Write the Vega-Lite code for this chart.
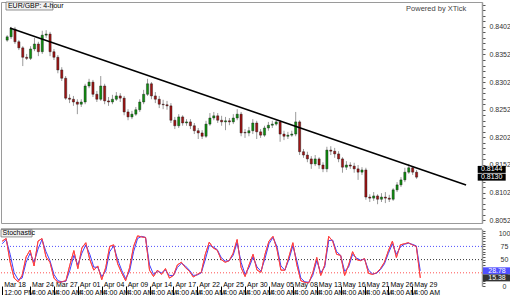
{
  "$schema": "https://vega.github.io/schema/vega-lite/v6.json",
  "padding": 0,
  "autosize": {"type": "pad"},
  "background": "white",
  "spacing": 2,
  "config": {"view": {"stroke": null}, "font": "Liberation Sans", "axis": {"labelFont": "Liberation Sans", "grid": false, "labelOverlap": false, "labelFlush": false}},
  "datasets": {
    "bars": [
      {"n":0,"o":0.8378,"h":0.8387,"l":0.8375,"c":0.8384,"k":85,"d":80},
      {"n":1,"o":0.8384,"h":0.8402,"l":0.8380,"c":0.8398,"k":90,"d":88},
      {"n":2,"o":0.8398,"h":0.8402,"l":0.8371,"c":0.8375,"k":45,"d":60},
      {"n":3,"o":0.8375,"h":0.8378,"l":0.8360,"c":0.8364,"k":15,"d":25},
      {"n":4,"o":0.8364,"h":0.8367,"l":0.8331,"c":0.8347,"k":8,"d":12},
      {"n":5,"o":0.8347,"h":0.8353,"l":0.8342,"c":0.8345,"k":20,"d":15},
      {"n":6,"o":0.8345,"h":0.8367,"l":0.8342,"c":0.8362,"k":55,"d":45},
      {"n":7,"o":0.8362,"h":0.8382,"l":0.8358,"c":0.8371,"k":68,"d":62},
      {"n":8,"o":0.8371,"h":0.8375,"l":0.8349,"c":0.8357,"k":38,"d":45},
      {"n":9,"o":0.8357,"h":0.8395,"l":0.8353,"c":0.8387,"k":85,"d":70},
      {"n":10,"o":0.8387,"h":0.8396,"l":0.8382,"c":0.8389,"k":90,"d":88},
      {"n":11,"o":0.8389,"h":0.8393,"l":0.8349,"c":0.8357,"k":55,"d":65},
      {"n":12,"o":0.8357,"h":0.8362,"l":0.8342,"c":0.8347,"k":45,"d":48},
      {"n":13,"o":0.8347,"h":0.8351,"l":0.8318,"c":0.8324,"k":15,"d":22},
      {"n":14,"o":0.8324,"h":0.8329,"l":0.8304,"c":0.8309,"k":7,"d":10},
      {"n":15,"o":0.8309,"h":0.8313,"l":0.8270,"c":0.8273,"k":8,"d":8},
      {"n":16,"o":0.8273,"h":0.8280,"l":0.8264,"c":0.8271,"k":10,"d":9},
      {"n":17,"o":0.8271,"h":0.8277,"l":0.8259,"c":0.8266,"k":40,"d":30},
      {"n":18,"o":0.8266,"h":0.8271,"l":0.8244,"c":0.8262,"k":67,"d":58},
      {"n":19,"o":0.8262,"h":0.8271,"l":0.8257,"c":0.8266,"k":33,"d":40},
      {"n":20,"o":0.8266,"h":0.8299,"l":0.8262,"c":0.8295,"k":72,"d":62},
      {"n":21,"o":0.8295,"h":0.8308,"l":0.8291,"c":0.8302,"k":82,"d":78},
      {"n":22,"o":0.8302,"h":0.8306,"l":0.8275,"c":0.8280,"k":50,"d":60},
      {"n":23,"o":0.8280,"h":0.8286,"l":0.8266,"c":0.8271,"k":30,"d":36},
      {"n":24,"o":0.8271,"h":0.8313,"l":0.8268,"c":0.8295,"k":38,"d":35},
      {"n":25,"o":0.8295,"h":0.8299,"l":0.8262,"c":0.8268,"k":12,"d":18},
      {"n":26,"o":0.8268,"h":0.8275,"l":0.8259,"c":0.8266,"k":35,"d":28},
      {"n":27,"o":0.8266,"h":0.8279,"l":0.8262,"c":0.8271,"k":75,"d":65},
      {"n":28,"o":0.8271,"h":0.8284,"l":0.8268,"c":0.8277,"k":78,"d":76},
      {"n":29,"o":0.8277,"h":0.8282,"l":0.8266,"c":0.8273,"k":42,"d":50},
      {"n":30,"o":0.8273,"h":0.8277,"l":0.8242,"c":0.8248,"k":25,"d":30},
      {"n":31,"o":0.8248,"h":0.8253,"l":0.8233,"c":0.8239,"k":10,"d":14},
      {"n":32,"o":0.8239,"h":0.8250,"l":0.8235,"c":0.8244,"k":35,"d":28},
      {"n":33,"o":0.8244,"h":0.8257,"l":0.8241,"c":0.8252,"k":75,"d":65},
      {"n":34,"o":0.8252,"h":0.8271,"l":0.8248,"c":0.8266,"k":95,"d":90},
      {"n":35,"o":0.8266,"h":0.8288,"l":0.8262,"c":0.8280,"k":93,"d":94},
      {"n":36,"o":0.8280,"h":0.8308,"l":0.8277,"c":0.8299,"k":92,"d":92},
      {"n":37,"o":0.8299,"h":0.8302,"l":0.8271,"c":0.8277,"k":30,"d":40},
      {"n":38,"o":0.8277,"h":0.8284,"l":0.8264,"c":0.8271,"k":18,"d":22},
      {"n":39,"o":0.8271,"h":0.8277,"l":0.8255,"c":0.8262,"k":30,"d":28},
      {"n":40,"o":0.8262,"h":0.8270,"l":0.8253,"c":0.8261,"k":22,"d":25},
      {"n":41,"o":0.8261,"h":0.8268,"l":0.8252,"c":0.8259,"k":33,"d":30},
      {"n":42,"o":0.8259,"h":0.8264,"l":0.8228,"c":0.8233,"k":15,"d":20},
      {"n":43,"o":0.8233,"h":0.8239,"l":0.8217,"c":0.8223,"k":20,"d":20},
      {"n":44,"o":0.8223,"h":0.8244,"l":0.8219,"c":0.8239,"k":40,"d":35},
      {"n":45,"o":0.8239,"h":0.8242,"l":0.8223,"c":0.8228,"k":45,"d":43},
      {"n":46,"o":0.8228,"h":0.8235,"l":0.8223,"c":0.8230,"k":35,"d":38},
      {"n":47,"o":0.8230,"h":0.8235,"l":0.8217,"c":0.8223,"k":28,"d":30},
      {"n":48,"o":0.8223,"h":0.8228,"l":0.8208,"c":0.8214,"k":17,"d":20},
      {"n":49,"o":0.8214,"h":0.8219,"l":0.8199,"c":0.8210,"k":22,"d":21},
      {"n":50,"o":0.8210,"h":0.8215,"l":0.8199,"c":0.8204,"k":26,"d":25},
      {"n":51,"o":0.8204,"h":0.8232,"l":0.8201,"c":0.8226,"k":60,"d":50},
      {"n":52,"o":0.8226,"h":0.8246,"l":0.8223,"c":0.8237,"k":83,"d":77},
      {"n":53,"o":0.8237,"h":0.8248,"l":0.8233,"c":0.8241,"k":72,"d":74},
      {"n":54,"o":0.8241,"h":0.8246,"l":0.8228,"c":0.8233,"k":68,"d":69},
      {"n":55,"o":0.8233,"h":0.8241,"l":0.8223,"c":0.8230,"k":50,"d":54},
      {"n":56,"o":0.8230,"h":0.8239,"l":0.8215,"c":0.8232,"k":45,"d":47},
      {"n":57,"o":0.8232,"h":0.8237,"l":0.8224,"c":0.8230,"k":48,"d":48},
      {"n":58,"o":0.8230,"h":0.8244,"l":0.8226,"c":0.8237,"k":62,"d":58},
      {"n":59,"o":0.8237,"h":0.8253,"l":0.8233,"c":0.8244,"k":88,"d":82},
      {"n":60,"o":0.8244,"h":0.8248,"l":0.8204,"c":0.8210,"k":35,"d":45},
      {"n":61,"o":0.8211,"h":0.8217,"l":0.8201,"c":0.8210,"k":18,"d":22},
      {"n":62,"o":0.8210,"h":0.8221,"l":0.8204,"c":0.8214,"k":40,"d":35},
      {"n":63,"o":0.8214,"h":0.8235,"l":0.8208,"c":0.8228,"k":60,"d":55},
      {"n":64,"o":0.8228,"h":0.8232,"l":0.8199,"c":0.8212,"k":30,"d":36},
      {"n":65,"o":0.8212,"h":0.8217,"l":0.8201,"c":0.8206,"k":26,"d":28},
      {"n":66,"o":0.8206,"h":0.8223,"l":0.8203,"c":0.8219,"k":60,"d":52},
      {"n":67,"o":0.8219,"h":0.8230,"l":0.8214,"c":0.8224,"k":85,"d":80},
      {"n":68,"o":0.8224,"h":0.8232,"l":0.8219,"c":0.8226,"k":94,"d":92},
      {"n":69,"o":0.8226,"h":0.8235,"l":0.8223,"c":0.8230,"k":70,"d":75},
      {"n":70,"o":0.8230,"h":0.8233,"l":0.8194,"c":0.8208,"k":30,"d":38},
      {"n":71,"o":0.8208,"h":0.8214,"l":0.8197,"c":0.8204,"k":30,"d":30},
      {"n":72,"o":0.8204,"h":0.8212,"l":0.8199,"c":0.8206,"k":55,"d":50},
      {"n":73,"o":0.8206,"h":0.8214,"l":0.8203,"c":0.8208,"k":82,"d":76},
      {"n":74,"o":0.8208,"h":0.8248,"l":0.8204,"c":0.8230,"k":40,"d":48},
      {"n":75,"o":0.8230,"h":0.8233,"l":0.8170,"c":0.8176,"k":10,"d":15},
      {"n":76,"o":0.8176,"h":0.8181,"l":0.8165,"c":0.8170,"k":7,"d":8},
      {"n":77,"o":0.8170,"h":0.8176,"l":0.8157,"c":0.8163,"k":6,"d":7},
      {"n":78,"o":0.8163,"h":0.8168,"l":0.8145,"c":0.8154,"k":25,"d":20},
      {"n":79,"o":0.8154,"h":0.8170,"l":0.8150,"c":0.8163,"k":54,"d":48},
      {"n":80,"o":0.8163,"h":0.8166,"l":0.8145,"c":0.8152,"k":20,"d":25},
      {"n":81,"o":0.8152,"h":0.8157,"l":0.8139,"c":0.8145,"k":40,"d":36},
      {"n":82,"o":0.8145,"h":0.8185,"l":0.8139,"c":0.8179,"k":94,"d":86},
      {"n":83,"o":0.8179,"h":0.8186,"l":0.8170,"c":0.8177,"k":85,"d":87},
      {"n":84,"o":0.8177,"h":0.8183,"l":0.8165,"c":0.8172,"k":60,"d":65},
      {"n":85,"o":0.8172,"h":0.8177,"l":0.8157,"c":0.8163,"k":58,"d":58},
      {"n":86,"o":0.8163,"h":0.8166,"l":0.8138,"c":0.8148,"k":20,"d":28},
      {"n":87,"o":0.8148,"h":0.8159,"l":0.8143,"c":0.8152,"k":40,"d":36},
      {"n":88,"o":0.8152,"h":0.8157,"l":0.8145,"c":0.8150,"k":65,"d":60},
      {"n":89,"o":0.8150,"h":0.8156,"l":0.8138,"c":0.8145,"k":50,"d":53},
      {"n":90,"o":0.8145,"h":0.8152,"l":0.8125,"c":0.8139,"k":48,"d":49},
      {"n":91,"o":0.8139,"h":0.8148,"l":0.8134,"c":0.8143,"k":52,"d":51},
      {"n":92,"o":0.8143,"h":0.8147,"l":0.8089,"c":0.8094,"k":24,"d":30},
      {"n":93,"o":0.8094,"h":0.8099,"l":0.8085,"c":0.8092,"k":22,"d":23},
      {"n":94,"o":0.8092,"h":0.8103,"l":0.8087,"c":0.8096,"k":25,"d":24},
      {"n":95,"o":0.8096,"h":0.8099,"l":0.8081,"c":0.8090,"k":33,"d":31},
      {"n":96,"o":0.8090,"h":0.8101,"l":0.8085,"c":0.8094,"k":45,"d":42},
      {"n":97,"o":0.8094,"h":0.8103,"l":0.8083,"c":0.8092,"k":67,"d":62},
      {"n":98,"o":0.8092,"h":0.8098,"l":0.8085,"c":0.8090,"k":85,"d":80},
      {"n":99,"o":0.8090,"h":0.8110,"l":0.8087,"c":0.8107,"k":54,"d":60},
      {"n":100,"o":0.8107,"h":0.8121,"l":0.8103,"c":0.8116,"k":78,"d":74},
      {"n":101,"o":0.8116,"h":0.8130,"l":0.8112,"c":0.8125,"k":80,"d":79},
      {"n":102,"o":0.8125,"h":0.8147,"l":0.8121,"c":0.8139,"k":82,"d":81},
      {"n":103,"o":0.8139,"h":0.8154,"l":0.8136,"c":0.8147,"k":78,"d":79},
      {"n":104,"o":0.8147,"h":0.8150,"l":0.8134,"c":0.8139,"k":75,"d":76},
      {"n":105,"o":0.8139,"h":0.8143,"l":0.8127,"c":0.8130,"k":15.38,"d":28.78}
    ],
    "trend": [{"n":0.7,"p":0.8400},{"n":117.7,"p":0.81158}],
    "lastp": [{"v":0.8144,"t":"0.8144"},{"v":0.8130,"t":"0.8130"}],
    "laststoch": [{"v":28.78,"t":"28.78","s":"%D"},{"v":15.38,"t":"15.38","s":"%K"}],
    "levels": [{"lvl":75,"s":"upper"},{"lvl":50,"s":"middle"},{"lvl":25,"s":"lower"}]
  },
  "vconcat": [
    {
      "width": 481,
      "height": 221,
      "view": {"stroke": "#9a9a9a"},
      "resolve": {"axis": {"x": "independent", "y": "independent"}},
      "layer": [
        {
          "data": {"name": "bars"},
          "mark": {"type": "rule", "color": "#9a9a9a", "strokeWidth": 1},
          "encoding": {
            "x": {"field": "n", "type": "quantitative", "scale": {"domain": [-0.3, 120.5], "nice": false, "zero": false}, "axis": null},
            "y": {"field": "l", "type": "quantitative", "scale": {"domain": [0.8047, 0.8447], "nice": false, "zero": false},
              "axis": {"orient": "right", "title": null, "grid": false,
                "values": [0.8052,0.8062,0.8072,0.8082,0.8092,0.8102,0.8112,0.8122,0.8132,0.8142,0.8152,0.8162,0.8172,0.8182,0.8192,0.8202,0.8212,0.8222,0.8232,0.8242,0.8252,0.8262,0.8272,0.8282,0.8292,0.8302,0.8312,0.8322,0.8332,0.8342,0.8352,0.8362,0.8372,0.8382,0.8392,0.8402,0.8412,0.8422,0.8432,0.8442],
                "labelExpr": "round(datum.value*10000) % 50 == 2 ? format(datum.value, '.4f') : ''",
                "labelOverlap": false, "tickSize": 3, "tickColor": "#555", "domainColor": "#999", "domainWidth": 1.5,
                "labelFontSize": 7, "labelColor": "#333", "labelPadding": 4, "labelAlign": "left", "labelBaseline": "middle"}},
            "y2": {"field": "h"}
          }
        },
        {
          "data": {"name": "bars"},
          "mark": {"type": "bar", "size": 2.2, "stroke": "#111", "strokeWidth": 0.4},
          "encoding": {
            "x": {"field": "n", "type": "quantitative", "scale": {"domain": [-0.3, 120.5], "nice": false, "zero": false}, "axis": null},
            "y": {"field": "o", "type": "quantitative", "scale": {"domain": [0.8047, 0.8447], "nice": false, "zero": false}, "axis": null},
            "y2": {"field": "c"},
            "color": {"condition": {"test": "datum.c >= datum.o", "value": "#109010"}, "value": "#a01515"}
          }
        },
        {
          "data": {"name": "trend"},
          "mark": {"type": "line", "color": "#000", "strokeWidth": 1.5},
          "encoding": {
            "x": {"field": "n", "type": "quantitative", "scale": {"domain": [-0.3, 120.5], "nice": false, "zero": false}, "axis": null},
            "y": {"field": "p", "type": "quantitative", "scale": {"domain": [0.8047, 0.8447], "nice": false, "zero": false}, "axis": null}
          }
        },
        {
          "data": {"values": [{}]},
          "mark": {"type": "rect", "fill": "#f2f2f2", "stroke": "#777", "strokeWidth": 0.8},
          "encoding": {
            "x": {"datum": -0.3, "type": "quantitative", "scale": {"domain": [-0.3, 120.5], "nice": false, "zero": false}, "axis": null},
            "x2": {"datum": 11.75},
            "y": {"datum": 0.8447, "type": "quantitative", "scale": {"domain": [0.8047, 0.8447], "nice": false, "zero": false}, "axis": null},
            "y2": {"datum": 0.84325}
          }
        },
        {
          "data": {"values": [{"t": "EUR/GBP: 4-hour"}]},
          "mark": {"type": "text", "align": "left", "baseline": "middle", "fontSize": 7, "color": "#000"},
          "encoding": {
            "x": {"datum": 0.2, "type": "quantitative", "scale": {"domain": [-0.3, 120.5], "nice": false, "zero": false}, "axis": null},
            "y": {"datum": 0.84398, "type": "quantitative", "scale": {"domain": [0.8047, 0.8447], "nice": false, "zero": false}, "axis": null},
            "text": {"field": "t"}
          }
        },
        {
          "data": {"values": [{"t": "Powered by XTick"}]},
          "mark": {"type": "text", "align": "right", "baseline": "middle", "fontSize": 7.5, "color": "#444"},
          "encoding": {
            "x": {"datum": 117.74, "type": "quantitative", "scale": {"domain": [-0.3, 120.5], "nice": false, "zero": false}, "axis": null},
            "y": {"datum": 0.84352, "type": "quantitative", "scale": {"domain": [0.8047, 0.8447], "nice": false, "zero": false}, "axis": null},
            "text": {"field": "t"}
          }
        },
        {
          "data": {"name": "lastp"},
          "mark": {"type": "point", "shape": "M-1,-0.25H1V0.25H-1Z", "size": 784, "filled": true, "color": "#000", "opacity": 1},
          "encoding": {
            "x": {"datum": 124.27, "type": "quantitative", "scale": {"domain": [-0.3, 120.5], "nice": false, "zero": false}, "axis": null},
            "y": {"field": "v", "type": "quantitative", "scale": {"domain": [0.8047, 0.8447], "nice": false, "zero": false}, "axis": null}
          }
        },
        {
          "data": {"name": "lastp"},
          "mark": {"type": "text", "align": "center", "baseline": "middle", "fontSize": 7, "color": "#fff"},
          "encoding": {
            "x": {"datum": 124.27, "type": "quantitative", "scale": {"domain": [-0.3, 120.5], "nice": false, "zero": false}, "axis": null},
            "y": {"field": "v", "type": "quantitative", "scale": {"domain": [0.8047, 0.8447], "nice": false, "zero": false}, "axis": null},
            "text": {"field": "t"}
          }
        }
      ]
    },
    {
      "width": 481,
      "height": 57,
      "resolve": {"axis": {"x": "independent", "y": "independent"}},
      "layer": [
        {
          "data": {"name": "bars"},
          "mark": {"type": "line", "color": "#ff4040", "strokeWidth": 1},
          "encoding": {
            "x": {"field": "n", "type": "quantitative", "scale": {"domain": [-0.3, 120.5], "nice": false, "zero": false},
              "axis": {"orient": "bottom", "title": null, "grid": false, "domain": false,
                "values": [0,7,13,19,25,31,37,43,49,55,61,67,73,79,85,91,97,103],
                "labelExpr": "[['Mar 18','Mar 24','Mar 27','Apr 01','Apr 04','Apr 09','Apr 14','Apr 17','Apr 22','Apr 25','Apr 30','May 05','May 08','May 13','May 16','May 21','May 26','May 29'][indexof([0,7,13,19,25,31,37,43,49,55,61,67,73,79,85,91,97,103], datum.value)], datum.value == 0 ? '12:00 PM' : '4:00 AM']",
                "labelAlign": "left", "labelBaseline": "top", "labelOffset": 1.5, "labelPadding": -21.5, "tickSize": 16, "tickColor": "#000",
                "labelFontSize": 7, "labelColor": "#000", "labelLineHeight": 8, "labelOverlap": false, "labelFlush": false}},
            "y": {"field": "k", "type": "quantitative", "scale": {"domain": [0, 108], "nice": false, "zero": false},
              "axis": {"orient": "right", "title": null, "grid": false,
                "values": [0,5,10,15,20,25,30,35,40,45,50,55,60,65,70,75,80,85,90,95,100,105],
                "labelExpr": "datum.value % 25 == 0 ? datum.label : ''",
                "labelOverlap": false, "tickSize": 3, "tickColor": "#555", "domainColor": "#999", "domainWidth": 1.5,
                "labelFontSize": 7, "labelColor": "#333", "labelPadding": 19, "labelAlign": "center", "labelBaseline": "middle"}}
          }
        },
        {
          "data": {"name": "levels"},
          "mark": {"type": "rule", "strokeWidth": 1, "strokeDash": [1, 2]},
          "encoding": {
            "y": {"field": "lvl", "type": "quantitative", "scale": {"domain": [0, 108], "nice": false, "zero": false}, "axis": null},
            "color": {"field": "s", "type": "nominal", "scale": {"domain": ["upper", "middle", "lower"], "range": ["#5050ff", "#333333", "#ff5050"]}, "legend": null}
          }
        },
        {
          "data": {"values": [{}]},
          "mark": {"type": "rule", "color": "#9a9a9a", "strokeWidth": 1.5},
          "encoding": {
            "y": {"datum": 108, "type": "quantitative", "scale": {"domain": [0, 108], "nice": false, "zero": false}, "axis": null}
          }
        },
        {
          "data": {"name": "bars"},
          "mark": {"type": "line", "color": "#4040ff", "strokeWidth": 1},
          "encoding": {
            "x": {"field": "n", "type": "quantitative", "scale": {"domain": [-0.3, 120.5], "nice": false, "zero": false}, "axis": null},
            "y": {"field": "d", "type": "quantitative", "scale": {"domain": [0, 108], "nice": false, "zero": false}, "axis": null}
          }
        },
        {
          "data": {"name": "bars"},
          "mark": {"type": "line", "color": "#ff4040", "strokeWidth": 1, "opacity": 0.85},
          "encoding": {
            "x": {"field": "n", "type": "quantitative", "scale": {"domain": [-0.3, 120.5], "nice": false, "zero": false}, "axis": null},
            "y": {"field": "k", "type": "quantitative", "scale": {"domain": [0, 108], "nice": false, "zero": false}, "axis": null}
          }
        },
        {
          "data": {"name": "laststoch"},
          "mark": {"type": "point", "shape": "M-1,-0.25H1V0.25H-1Z", "size": 784, "filled": true, "opacity": 1},
          "encoding": {
            "x": {"datum": 124.27, "type": "quantitative", "scale": {"domain": [-0.3, 120.5], "nice": false, "zero": false}, "axis": null},
            "y": {"field": "v", "type": "quantitative", "scale": {"domain": [0, 108], "nice": false, "zero": false}, "axis": null},
            "color": {"field": "s", "type": "nominal", "scale": {"domain": ["%D", "%K"], "range": ["#1010e8", "#e81010"]}, "legend": null}
          }
        },
        {
          "data": {"name": "laststoch"},
          "mark": {"type": "text", "align": "center", "baseline": "middle", "fontSize": 7, "color": "#fff"},
          "encoding": {
            "x": {"datum": 124.27, "type": "quantitative", "scale": {"domain": [-0.3, 120.5], "nice": false, "zero": false}, "axis": null},
            "y": {"field": "v", "type": "quantitative", "scale": {"domain": [0, 108], "nice": false, "zero": false}, "axis": null},
            "text": {"field": "t"}
          }
        },
        {
          "data": {"values": [{}]},
          "mark": {"type": "rect", "fill": "#f2f2f2", "stroke": "#777", "strokeWidth": 0.8},
          "encoding": {
            "x": {"datum": -0.3, "type": "quantitative", "scale": {"domain": [-0.3, 120.5], "nice": false, "zero": false}, "axis": null},
            "x2": {"datum": 7.5},
            "y": {"datum": 107, "type": "quantitative", "scale": {"domain": [0, 108], "nice": false, "zero": false}, "axis": null},
            "y2": {"datum": 93}
          }
        },
        {
          "data": {"values": [{"t": "Stochastic"}]},
          "mark": {"type": "text", "align": "left", "baseline": "middle", "fontSize": 7, "color": "#000"},
          "encoding": {
            "x": {"datum": 0.1, "type": "quantitative", "scale": {"domain": [-0.3, 120.5], "nice": false, "zero": false}, "axis": null},
            "y": {"datum": 100, "type": "quantitative", "scale": {"domain": [0, 108], "nice": false, "zero": false}, "axis": null},
            "text": {"field": "t"}
          }
        }
      ]
    }
  ]
}
